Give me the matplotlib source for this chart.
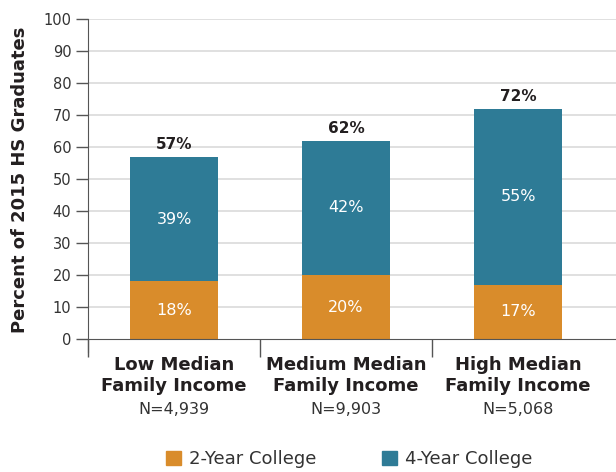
import matplotlib
matplotlib.use("Agg")
import matplotlib.pyplot as plt
import matplotlib.transforms as mtrans
from matplotlib.patches import Patch

categories_line1 = ["Low Median", "Medium Median", "High Median"]
categories_line2 = ["Family Income", "Family Income", "Family Income"]
n_labels = ["N=4,939", "N=9,903", "N=5,068"]
two_year = [18, 20, 17]
four_year = [39, 42, 55]
totals = [57, 62, 72]
yticks = list(range(0, 101, 10))

ORANGE = "#D98C2B"
TEAL = "#2E7B96"
DARK = "#231F20"
GRAY = "#333333"

plt.rcParams['font.family'] = ['DejaVu Sans']

fig = plt.figure(figsize=(6.16, 4.72), dpi=100)
px_w, px_h = 616, 472
left, right = 88, 616
top_px, bot_px = 19, 352
ax = fig.add_axes([left / px_w, 1 - bot_px / px_h, (right - left) / px_w, (bot_px - top_px) / px_h])

cat_px = 172
x = list(range(len(two_year)))
xmin = -0.5
xmax = xmin + (right - left) / cat_px
ymin = -(bot_px - 339) / 3.2
ax.set_xlim(xmin, xmax)
ax.set_ylim(ymin, 100)

bw = 88 / cat_px
ax.bar(x, two_year, width=bw, color=ORANGE, zorder=3)
ax.bar(x, four_year, width=bw, bottom=two_year, color=TEAL, zorder=3)

for i in x:
    ax.text(i, two_year[i] / 2, f"{two_year[i]}%", ha="center", va="center",
            color="white", fontsize=11.5, zorder=4)
    ax.text(i, two_year[i] + four_year[i] / 2, f"{four_year[i]}%", ha="center",
            va="center", color="white", fontsize=11.5, zorder=4)
    ax.text(i, totals[i] + 1.4, f"{totals[i]}%", ha="center", va="bottom",
            color=DARK, fontsize=11, fontweight="bold", zorder=4)

# grid
for yv in yticks[1:]:
    ax.axhline(yv, color="#DDDDDD", lw=1.3, zorder=1)

ax.set_yticks(yticks)
ax.set_yticklabels([str(v) for v in yticks], fontsize=10.5, color=GRAY)
ax.tick_params(axis="y", length=9, width=1, color="#555555", pad=3)

for s in ["top", "right"]:
    ax.spines[s].set_visible(False)
ax.spines["bottom"].set_position(("data", 0))
ax.spines["bottom"].set_color("#555555")
ax.spines["left"].set_color("#555555")
ax.spines["bottom"].set_zorder(5)

ax.set_xticks([-0.5, 0.5, 1.5])
ax.set_xticklabels(["", "", ""])
ax.tick_params(axis="x", length=13, width=1, color="#555555", direction="out")

trans = mtrans.blended_transform_factory(ax.transData, fig.transFigure)
for i in x:
    ax.text(i, 1 - 365 / px_h, categories_line1[i], transform=trans, ha="center",
            va="center", fontsize=13, fontweight="bold", color=DARK)
    ax.text(i, 1 - 386 / px_h, categories_line2[i], transform=trans, ha="center",
            va="center", fontsize=13, fontweight="bold", color=DARK)
    ax.text(i, 1 - 409 / px_h, n_labels[i], transform=trans, ha="center",
            va="center", fontsize=11.5, color=GRAY)

fig.text(20 / px_w, 1 - 180 / px_h, "Percent of 2015 HS Graduates", rotation=90,
         ha="center", va="center", fontsize=13, fontweight="bold", color=DARK)

handles = [Patch(color=ORANGE, label="2-Year College"), Patch(color=TEAL, label="4-Year College")]
fig.legend(handles=handles, loc="center", bbox_to_anchor=(349 / px_w, 1 - 459 / px_h),
           ncol=2, frameon=False, fontsize=13, handlelength=0.85, handleheight=0.85,
           handletextpad=0.45, columnspacing=3.6, labelcolor=GRAY)

fig.savefig("out.png", dpi=100)
